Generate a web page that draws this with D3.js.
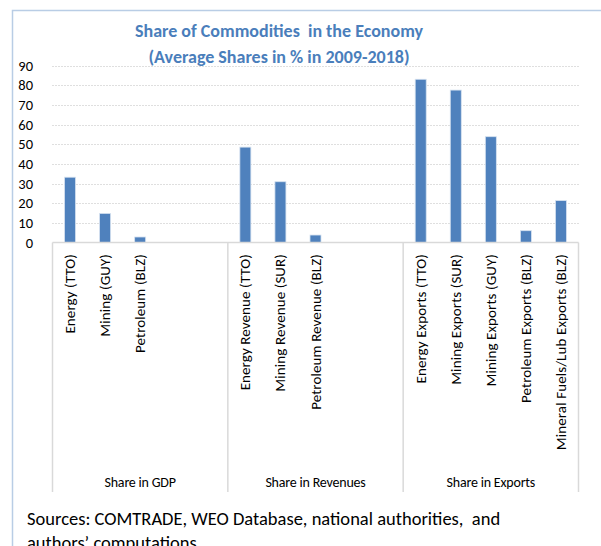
<!DOCTYPE html>
<html>
<head>
<meta charset="utf-8">
<script src="https://cdn.jsdelivr.net/npm/d3@7"></script>
<style>
  html, body { margin: 0; padding: 0; background: #fff; overflow: hidden; }
  svg { display: block; }
  text { white-space: pre; }
</style>
</head>
<body>
<svg id="chart" width="601" height="546"></svg>
<script>
// Commodity shares, averages 2009-2018 (%)
const groups = ["Share in GDP", "Share in Revenues", "Share in Exports"];
const categories = [
  "Energy (TTO)", "Mining (GUY)", "Petroleum (BLZ)",
  "Energy Revenue (TTO)", "Mining Revenue (SUR)", "Petroleum Revenue (BLZ)",
  "Energy Exports (TTO)", "Mining Exports (SUR)", "Mining Exports (GUY)",
  "Petroleum Exports (BLZ)", "Mineral Fuels/Lub Exports (BLZ)"
];
const categoryGroup = [0, 0, 0, 1, 1, 1, 2, 2, 2, 2, 2];
const values = [33.2, 14.8, 2.8, 48.5, 30.9, 3.8, 83.0, 77.5, 53.8, 6.0, 21.3];
const yTicks = [0, 10, 20, 30, 40, 50, 60, 70, 80, 90];
const titleLines = ["Share of Commodities  in the Economy", "(Average Shares in % in 2009-2018)"];
const sourceLines = ["Sources: COMTRADE, WEO Database, national authorities,  and", "authors\u2019 computations"];

const FONT = "Carlito, Calibri, Lato, 'Liberation Sans', sans-serif";
const svg = d3.select("#chart");

// outer frame (runs off the right and bottom edges)
svg.append("path")
  .attr("d", "M12.5,560 V10.5 H620")
  .attr("fill", "none").attr("stroke", "#b9cde5").attr("stroke-width", 1.5);

const plot = { left: 52.5, right: 578.5, top: 65.5, bottom: 242.5 };

const y = d3.scaleLinear().domain([0, 90]).range([plot.bottom, plot.top]);
const xGroup = d3.scaleBand().domain(d3.range(groups.length)).range([plot.left, plot.right]);
const slotsPerGroup = 5;
const xSlot = d3.scaleBand().domain(d3.range(slotsPerGroup)).range([0, xGroup.bandwidth()]).paddingInner(0.686).paddingOuter(0.343);

const rows = categories.map((c, i) => {
  const g = categoryGroup[i];
  const idx = categoryGroup.slice(0, i).filter(v => v === g).length;
  return { name: c, group: g, slot: idx, value: values[i] };
});
const cx = d => xGroup(d.group) + xSlot(d.slot) + xSlot.bandwidth() / 2;

// dotted gridlines
svg.append("g").selectAll("line").data(yTicks.filter(t => t > 0)).join("line")
  .attr("x1", plot.left).attr("x2", plot.right)
  .attr("y1", d => Math.round(y(d)) + 0.5).attr("y2", d => Math.round(y(d)) + 0.5)
  .attr("stroke", "#bfbfbf").attr("stroke-width", 1).attr("stroke-dasharray", "1,2");

// y axis labels
const yAxis = svg.append("g").attr("transform", `translate(33,0)`)
  .call(d3.axisLeft(y).tickValues(yTicks).tickSize(0).tickPadding(0));
yAxis.select(".domain").remove();
yAxis.selectAll("text").attr("font-family", FONT).attr("font-size", 14.5).attr("fill", "#000");

// bars
svg.append("g").selectAll("rect").data(rows).join("rect")
  .attr("x", d => xGroup(d.group) + xSlot(d.slot))
  .attr("width", xSlot.bandwidth())
  .attr("y", d => y(d.value))
  .attr("height", d => y(0) - y(d.value))
  .attr("fill", "#4f81bd")
  .attr("stroke", "#d6e2f0").attr("stroke-width", 0.8);

// category axis: baseline and group dividers
const axisG = svg.append("g").attr("stroke", "#d9d9d9").attr("stroke-width", 1.5);
axisG.append("line").attr("x1", plot.left).attr("x2", plot.right)
  .attr("y1", plot.bottom).attr("y2", plot.bottom);
const dividers = d3.range(groups.length + 1).map(i => i < groups.length ? xGroup(i) : xGroup(i - 1) + xGroup.bandwidth());
axisG.selectAll("line.div").data(dividers).join("line").attr("class", "div")
  .attr("x1", d => d).attr("x2", d => d)
  .attr("y1", plot.bottom).attr("y2", 492);

// rotated category labels
svg.append("g").selectAll("text").data(rows).join("text")
  .attr("transform", d => `translate(${cx(d) + 5},254) rotate(-90)`)
  .attr("text-anchor", "end")
  .attr("font-family", FONT).attr("font-size", 15).attr("fill", "#000")
  .attr("letter-spacing", 0.1)
  .text(d => d.name);

// group labels
svg.append("g").selectAll("text").data(groups).join("text")
  .attr("x", (d, i) => xGroup(i) + xGroup.bandwidth() / 2)
  .attr("y", 487)
  .attr("text-anchor", "middle")
  .attr("font-family", FONT).attr("font-size", 14).attr("fill", "#000")
  .attr("letter-spacing", -0.2)
  .text(d => d);

// title
svg.append("g").selectAll("text").data(titleLines).join("text")
  .attr("x", 279).attr("y", (d, i) => 37 + i * 26)
  .attr("text-anchor", "middle")
  .attr("font-family", FONT).attr("font-size", 18).attr("font-weight", "bold")
  .attr("fill", "#4a7ebb")
  .text(d => d);

// source note
svg.append("g").selectAll("text").data(sourceLines).join("text")
  .attr("x", 27).attr("y", (d, i) => 525 + i * 24)
  .attr("font-family", FONT).attr("font-size", 18.5).attr("fill", "#000")
  .text(d => d);
</script>
</body>
</html>
